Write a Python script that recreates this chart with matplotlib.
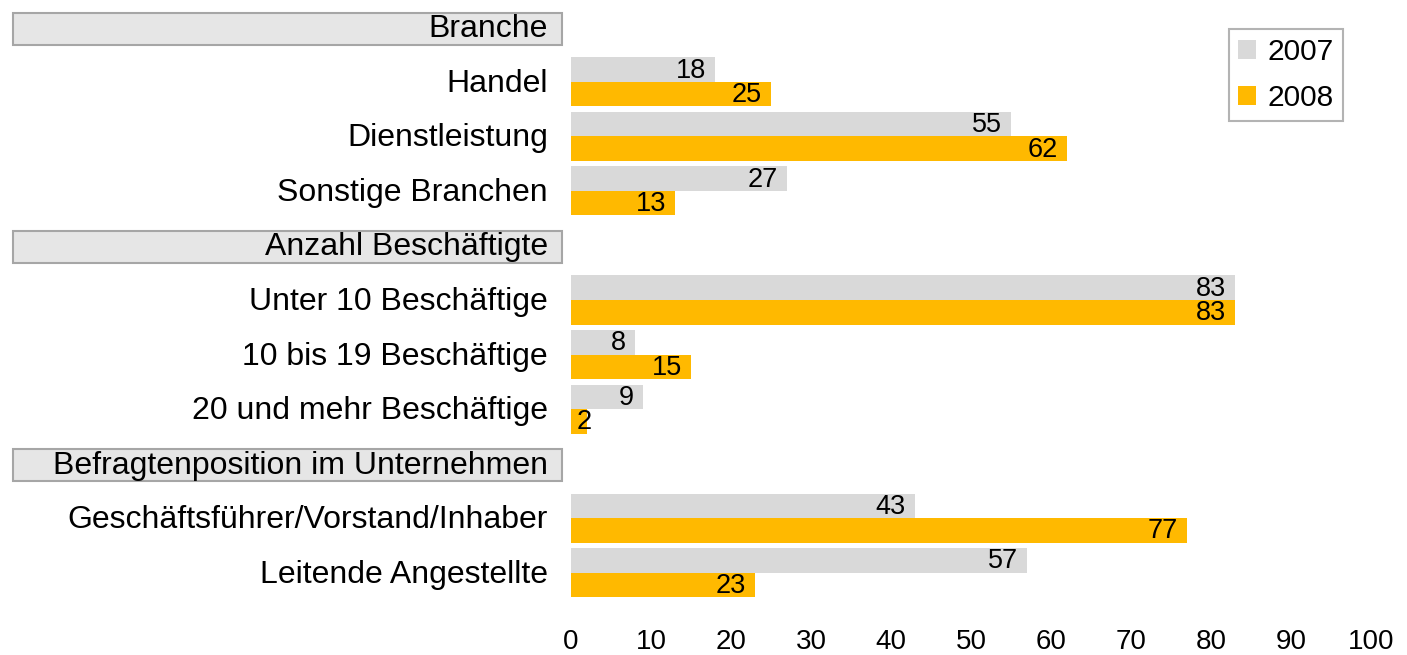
import matplotlib
matplotlib.use("Agg")
import matplotlib.pyplot as plt
from matplotlib.patches import Rectangle
from matplotlib.transforms import blended_transform_factory
import numpy as np

plt.rcParams['font.family'] = ['Liberation Sans', 'DejaVu Sans']

# rows top to bottom; headers have None values
rows = ["Branche", "Handel", "Dienstleistung", "Sonstige Branchen",
        "Anzahl Beschäftigte", "Unter 10 Beschäftige", "10 bis 19 Beschäftige",
        "20 und mehr Beschäftige", "Befragtenposition im Unternehmen",
        "Geschäftsführer/Vorstand/Inhaber", "Leitende Angestellte"]
is_header = [True, False, False, False, True, False, False, False, True, False, False]
values_2007 = [None, 18, 55, 27, None, 83, 8, 9, None, 43, 57]
values_2008 = [None, 25, 62, 13, None, 83, 15, 2, None, 77, 23]
series_names = ["2007", "2008"]
xticks = [0, 10, 20, 30, 40, 50, 60, 70, 80, 90, 100]

c2007 = "#d9d9d9"
c2008 = "#ffb900"
FS_CAT = 23
FS_VAL = 19.5
FS_TICK = 20
FS_LEG = 21.5

W, H = 1407, 655
fig = plt.figure(figsize=(W / 100, H / 100), dpi=100)
ax = fig.add_axes([571 / W, 55 / H, 800 / W, 600 / H])

bh = 0.45
for i, (a, b) in enumerate(zip(values_2007, values_2008)):
    if a is None:
        continue
    ax.barh(i - bh / 2, a, height=bh, color=c2007, label=series_names[0] if i == 1 else None)
    ax.barh(i + bh / 2, b, height=bh, color=c2008, label=series_names[1] if i == 1 else None)
    for v, y in ((a, i - bh / 2), (b, i + bh / 2)):
        if v < 5:
            ax.annotate(str(v), (0, y), xytext=(6, -1), textcoords="offset pixels",
                        ha="left", va="center", fontsize=FS_VAL)
        else:
            ax.annotate(str(v), (v, y), xytext=(-9, -1), textcoords="offset pixels",
                        ha="right", va="center", fontsize=FS_VAL)

ax.set_xlim(0, 100)
ax.set_ylim(len(rows) - 0.5, -0.5)
ax.set_xticks(xticks)
ax.set_xticklabels([str(t) for t in xticks], fontsize=FS_TICK)
ax.tick_params(axis="x", length=0, pad=21)
ax.set_yticks([])
for s in ax.spines.values():
    s.set_visible(False)

trans = blended_transform_factory(fig.transFigure, ax.transData)
for i, (name, hdr) in enumerate(zip(rows, is_header)):
    if hdr:
        rect = Rectangle((13 / W, i - 0.26), (562 - 13) / W, 0.58, transform=trans,
                         facecolor="#e6e6e6", edgecolor="#a6a6a6", linewidth=1.5,
                         clip_on=False, zorder=1)
        ax.add_patch(rect)
    ax.annotate(name, (548 / W, i), xycoords=trans, xytext=(0, -2),
                textcoords="offset pixels", ha="right", va="center",
                fontsize=FS_CAT, zorder=5)

leg = ax.legend(loc="upper right", bbox_to_anchor=(1343 / W, 1 - 29 / H),
                bbox_transform=fig.transFigure, fontsize=FS_LEG, frameon=True,
                fancybox=False, handlelength=0.6, handleheight=0.6,
                handletextpad=0.4, labelspacing=0.6, borderpad=0.3,
                borderaxespad=0)
leg.get_frame().set_edgecolor("#a0a0a0")
leg.get_frame().set_linewidth(1.5)

fig.savefig("out.png", dpi=100)
